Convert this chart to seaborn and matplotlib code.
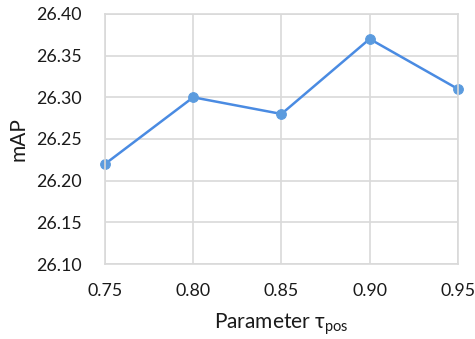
import matplotlib
matplotlib.use("Agg")
import matplotlib.pyplot as plt
import seaborn as sns
import pandas as pd

tau = [0.75, 0.80, 0.85, 0.90, 0.95]
mAP = [26.22, 26.30, 26.28, 26.37, 26.31]
yticks = [26.10, 26.15, 26.20, 26.25, 26.30, 26.35, 26.40]

sns.set_theme(style="white")
plt.rcParams['font.family'] = ['Lato', 'DejaVu Sans']

df = pd.DataFrame({"tau": tau, "mAP": mAP})
fig = plt.figure(figsize=(4.75, 3.39), dpi=100)
ax = fig.add_axes([0.221, 0.221, 0.743, 0.738])
sns.lineplot(data=df, x="tau", y="mAP", ax=ax, color="#4a8be2", linewidth=1.8,
             marker="o", markersize=7, markerfacecolor="#5b9bde", markeredgecolor="#5b9bde")
ax.set_xlim(0.75, 0.95)
ax.set_ylim(26.10, 26.40)
ax.set_xticks(tau)
ax.set_xticklabels([f"{t:.2f}" for t in tau])
ax.set_yticks(yticks)
ax.set_yticklabels([f"{v:.2f}" for v in yticks])
ax.grid(True, color="#d9d9d9", linewidth=1.2)
for s in ax.spines.values():
    s.set_color("#d9d9d9")
    s.set_linewidth(1.2)
ax.tick_params(axis="both", labelsize=12.8, colors="#1a1a1a", length=0)
ax.tick_params(axis="x", pad=13.5)
ax.tick_params(axis="y", pad=17)
ax.set_xlabel("")
ax.set_ylabel("")
fig.text(281.5 / 475, 1 - 324 / 339, r"Parameter $\mathregular{\tau_{pos}}$", fontsize=15,
         color="#1a1a1a", ha="center", va="center")
fig.text(19 / 475, 1 - 139 / 339, "mAP", fontsize=15, color="#1a1a1a",
         rotation=90, ha="center", va="center")
ax.set_axisbelow(True)
for l in ax.get_lines():
    l.set_clip_on(False)
fig.savefig("out.png", dpi=100)
